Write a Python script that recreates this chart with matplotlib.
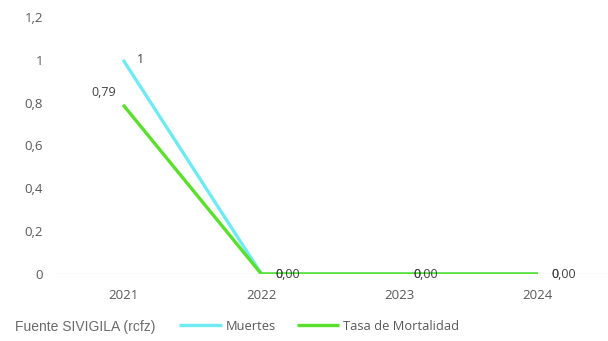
import matplotlib
matplotlib.use("Agg")
import matplotlib.pyplot as plt

# chart data
years = ["2021", "2022", "2023", "2024"]
muertes = [1, 0, 0, 0]
tasa = [0.79, 0.00, 0.00, 0.00]
muertes_labels = ["1", "0", "0", "0"]
tasa_labels = ["0,79", "0,00", "0,00", "0,00"]
y_ticks = [0, 0.2, 0.4, 0.6, 0.8, 1.0, 1.2]
y_tick_labels = ["0", "0,2", "0,4", "0,6", "0,8", "1", "1,2"]

cyan = "#6FEAF2"
green = "#58E02C"
txt = "#595959"

plt.rcParams["font.family"] = ["Open Sans", "DejaVu Sans"]

fig = plt.figure(figsize=(6.08, 3.41), dpi=100)
ax = fig.add_axes([54 / 608, 67 / 341, 553 / 608, 257 / 341])

x = list(range(len(years)))
ax.plot(x, muertes, color=cyan, lw=2.4, solid_capstyle="butt", label="Muertes", zorder=3)
ax.plot(x, tasa, color=green, lw=2.4, solid_capstyle="butt", label="Tasa de Mortalidad", zorder=4)

# data labels (the "0" of Muertes sits on top of the "0,00" of the rate, as in the source)
for i, (v, s) in enumerate(zip(tasa, tasa_labels)):
    if i == 0:
        ax.annotate(s, (i, v), xytext=(-5, 4), textcoords="offset points",
                    ha="right", va="bottom", fontsize=9, color="#404040")
    else:
        ax.annotate(s, (i, v), xytext=(10, 0), textcoords="offset points",
                    ha="left", va="center", fontsize=9, color="#404040", zorder=5)
for i, (v, s) in enumerate(zip(muertes, muertes_labels)):
    ax.annotate(s, (i, v), xytext=(10, 0), textcoords="offset points",
                ha="left", va="center", fontsize=9, color="#404040", zorder=5)

ax.set_xlim(-0.5, len(years) - 0.5)
ax.set_ylim(0, 1.2)
ax.set_xticks(x)
ax.set_xticklabels(years)
ax.set_yticks(y_ticks)
ax.set_yticklabels(y_tick_labels)
ax.tick_params(axis="both", length=0, labelsize=9.5, colors=txt)
ax.tick_params(axis="x", pad=11)
ax.tick_params(axis="y", pad=8)

for sp in ax.spines.values():
    sp.set_visible(False)
ax.axhline(0, color="#D9D9D9", lw=0.9, zorder=1)

leg = fig.legend(loc="center", bbox_to_anchor=(0.525, 0.043), ncol=2, frameon=False,
                 fontsize=9.3, handlelength=3.3, handletextpad=0.3, columnspacing=1.6)
for t in leg.get_texts():
    t.set_color(txt)

fig.text(15 / 608, 0.04, "Fuente SIVIGILA (rcfz)", fontsize=10, color="#6b6b6b",
         family=["Liberation Sans"], va="center", ha="left")

fig.savefig("out.png", dpi=100)
